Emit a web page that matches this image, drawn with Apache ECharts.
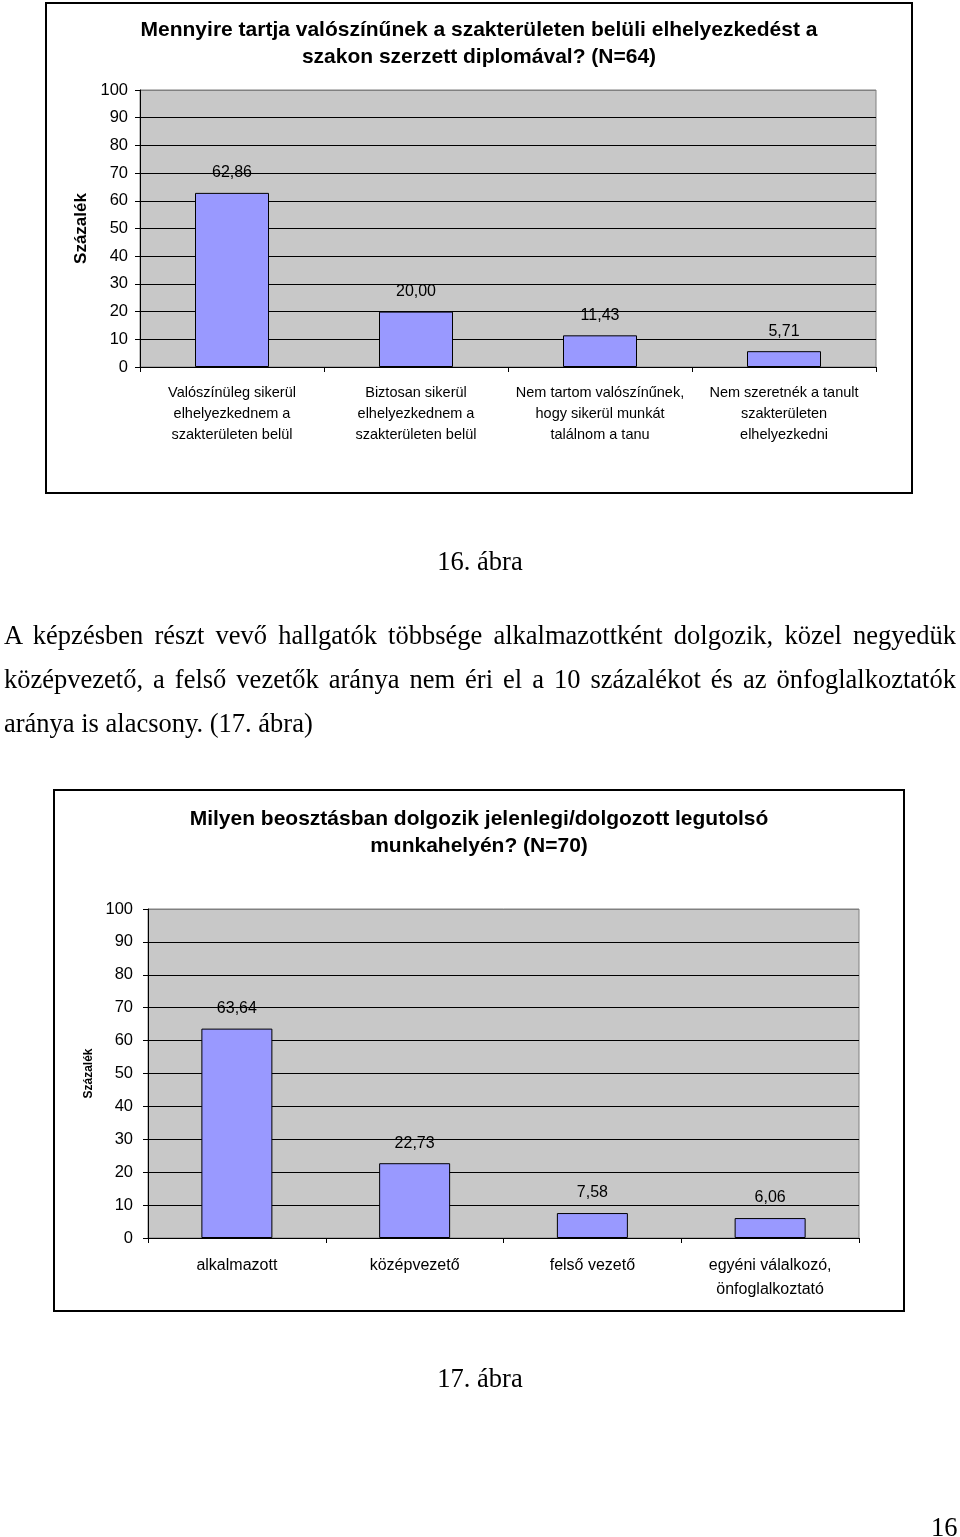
<!DOCTYPE html>
<html>
<head>
<meta charset="utf-8">
<script src="https://cdn.jsdelivr.net/npm/echarts@6/dist/echarts.min.js"></script>
<style>
  html, body { margin: 0; padding: 0; background: #fff; }
  #page { position: relative; width: 960px; height: 1537px; overflow: hidden; }
  #chart { position: absolute; left: 0; top: 0; width: 960px; height: 1537px; }
  .t { position: absolute; font-family: "Liberation Serif", "DejaVu Serif", serif; font-size: 26.5px; line-height: 30px; color: #000; white-space: nowrap; }
  .c { left: 0; width: 960px; text-align: center; }
  .j { left: 4px; width: 952px; text-align: justify; text-align-last: justify; }
</style>
</head>
<body>
<div id="page">
  <div id="chart"></div>
  <div class="t c" style="top:546px;">16. ábra</div>
  <div class="t j" style="top:620px;">A képzésben részt vevő hallgatók többsége alkalmazottként dolgozik, közel negyedük</div>
  <div class="t j" style="top:664px;">középvezető, a felső vezetők aránya nem éri el a 10 százalékot és az önfoglalkoztatók</div>
  <div class="t" style="left:4px; top:708px;">aránya is alacsony. (17. ábra)</div>
  <div class="t c" style="top:1363px;">17. ábra</div>
  <div class="t" style="left:931px; top:1512px;">16</div>
</div>
<script>
// ---- Chart 1 data ----
const title1 = "Mennyire tartja valószínűnek a szakterületen belüli elhelyezkedést a\nszakon szerzett diplomával? (N=64)";
const categories1 = [
  "Valószínüleg sikerül\nelhelyezkednem a\nszakterületen belül",
  "Biztosan sikerül\nelhelyezkednem a\nszakterületen belül",
  "Nem tartom valószínűnek,\nhogy sikerül munkát\ntalálnom a tanu",
  "Nem szeretnék a tanult\nszakterületen\nelhelyezkedni"
];
const values1 = [62.86, 20.00, 11.43, 5.71];

// ---- Chart 2 data ----
const title2 = "Milyen beosztásban dolgozik jelenlegi/dolgozott legutolsó\nmunkahelyén? (N=70)";
const categories2 = ["alkalmazott", "középvezető", "felső vezető", "egyéni válalkozó,\nönfoglalkoztató"];
const values2 = [63.64, 22.73, 7.58, 6.06];

const yAxisName = "Százalék";
const yMin = 0, yMax = 100, yStep = 10;

const FONT = "Liberation Sans, Arial, sans-serif";
const splitColors = [];
for (let v = yMin; v <= yMax; v += yStep) splitColors.push(v === yMax ? '#808080' : '#000');

function fmt(p) { return p.value.toFixed(2).replace('.', ','); }

function yAxisDef(gridIndex, nameSize, nameGap, labelMargin) {
  return {
    type: 'value', gridIndex, min: yMin, max: yMax, interval: yStep,
    name: yAxisName, nameLocation: 'middle', nameRotate: 90, nameGap,
    nameTextStyle: { fontFamily: FONT, fontWeight: 'bold', fontSize: nameSize, color: '#000' },
    axisLine: { show: true, lineStyle: { color: '#000', width: 1 } },
    axisTick: { show: true, length: 5, lineStyle: { color: '#000' } },
    axisLabel: { fontFamily: FONT, fontSize: 16.5, color: '#000', margin: labelMargin },
    splitLine: { show: true, lineStyle: { color: splitColors, width: 1.2 } }
  };
}
function xAxisDef(gridIndex, cats, fontSize, lineHeight, margin) {
  return {
    type: 'category', gridIndex, data: cats,
    axisLine: { show: true, lineStyle: { color: '#000', width: 1.2 } },
    axisTick: { show: true, length: 5, lineStyle: { color: '#000' } },
    axisLabel: { fontFamily: FONT, fontSize, lineHeight, color: '#000', margin, interval: 0, align: 'center' }
  };
}
function barSeries(idx, vals, barWidth) {
  return {
    type: 'bar', xAxisIndex: idx, yAxisIndex: idx, data: vals, barWidth,
    itemStyle: { color: '#9999FF', borderColor: '#000', borderWidth: 1 },
    label: { show: true, position: 'top', distance: 12, formatter: fmt,
             fontFamily: FONT, fontSize: 16, color: '#000' },
    silent: true, animation: false
  };
}

const chart = echarts.init(document.getElementById('chart'), null, { renderer: 'canvas' });
chart.setOption({
  animation: false,
  backgroundColor: 'transparent',
  title: [
    { text: title1, left: 479, top: 17, textAlign: 'center', padding: 0,
      textStyle: { fontFamily: FONT, fontWeight: 'bold', fontSize: 21, lineHeight: 27, color: '#000' } },
    { text: title2, left: 479, top: 806, textAlign: 'center', padding: 0,
      textStyle: { fontFamily: FONT, fontWeight: 'bold', fontSize: 21, lineHeight: 27, color: '#000' } }
  ],
  graphic: [
    { type: 'rect', shape: { x: 46, y: 3, width: 866, height: 490 }, style: { fill: 'none', stroke: '#000', lineWidth: 2 }, z: 0 },
    { type: 'rect', shape: { x: 54, y: 790, width: 850, height: 521 }, style: { fill: 'none', stroke: '#000', lineWidth: 2 }, z: 0 }
  ],
  grid: [
    { left: 140, top: 90, width: 736, height: 277, show: true, backgroundColor: '#C8C8C8', borderColor: '#808080', borderWidth: 1 },
    { left: 148, top: 909, width: 711, height: 329, show: true, backgroundColor: '#C8C8C8', borderColor: '#808080', borderWidth: 1 }
  ],
  xAxis: [
    xAxisDef(0, categories1, 14.5, 21, 15),
    xAxisDef(1, categories2, 16, 24, 16)
  ],
  yAxis: [
    yAxisDef(0, 17, 50, 12),
    yAxisDef(1, 12, 51, 15)
  ],
  series: [
    barSeries(0, values1, 74),
    barSeries(1, values2, 71)
  ]
});
</script>
</body>
</html>
